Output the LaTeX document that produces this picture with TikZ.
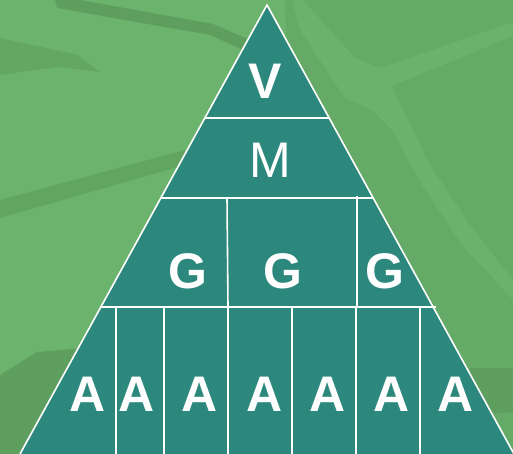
\documentclass[tikz,border=0pt]{standalone}
\usepackage{fontspec}
\setsansfont{Liberation Sans}
\definecolor{leafgreen}{RGB}{108,180,109}
\definecolor{leafmid}{RGB}{101,170,102}
\definecolor{leafdark}{RGB}{94,158,95}
\definecolor{pyrteal}{RGB}{44,136,124}
\tikzset{every picture/.style={/utils/exec={\sffamily}}}
\usetikzlibrary{calc}

\begin{document}
\begin{tikzpicture}[x=1pt,y=-1pt]
  % background with leaf streaks
  \useasboundingbox (0,0) rectangle (513,454);
  \clip (0,0) rectangle (513,454);

	 \tikzstyle{divider}=[draw=white,line width=1.6pt]
	 \tikzstyle{letter}=[text=white,inner sep=0pt,font=\fontsize{50}{50}\selectfont\bfseries]
	 \tikzstyle{plainletter}=[letter,font=\fontsize{50}{50}\selectfont]
	 \fill[leafgreen] (0,0) rectangle (513,454);
	 \fill[leafmid] (285,0) -- (513,0) -- (513,454) -- (300,454) -- cycle;
	 \fill[leafgreen!80!leafmid] (292,0) -- (303,0) -- (355,58) -- (380,68) -- (513,22) -- (513,36)
	   -- (392,86) -- (402,108) -- (430,165) -- (470,225) -- (513,280) -- (513,300)
	   -- (462,245) -- (422,185) -- (392,130) -- (372,110) -- (345,98) -- (300,30) -- cycle;
	 \fill[leafdark] (55,0) -- (80,0) -- (213,24) -- (250,40) -- (248,52) -- (210,35) -- (57,8) -- cycle;
	 \fill[leafdark!60!leafgreen] (0,38) -- (78,55) -- (100,72) -- (57,67) -- (0,75) -- cycle;
	 \fill[leafdark!70!leafgreen] (0,200) -- (185,150) -- (185,165) -- (0,218) -- cycle;
	 \fill[leafdark] (0,375) -- (37,352) -- (85,348) -- (85,454) -- (0,454) -- cycle;
	 \fill[leafdark] (470,368) -- (513,368) -- (513,412) -- (470,415) -- cycle;

	 % pyramid
	 \coordinate (apex) at (267,5);
	 \coordinate (bl) at (20,454);
	 \coordinate (br) at (514,454);
	 \fill[pyrteal] (apex) -- (bl) -- (br) -- cycle;
	 \draw[divider] (bl) -- (apex) -- (br);
	 \draw[divider] ($(apex)!0.2517!(bl)$) -- ($(apex)!0.2517!(br)$);
	 \draw[divider] ($(apex)!0.4298!(bl)$) -- ($(apex)!0.4298!(br)$);
	 \draw[divider] ($(apex)!0.6726!(bl)+(-1,0)$) -- ($(apex)!0.6726!(br)+(3,0)$);
	 \draw[divider] (227,198) -- (228,307);
	 \draw[divider] (357,196) -- (357,307);
	 \foreach \x in {116,164,228,292,356,420}
	   \draw[divider] (\x,307) -- (\x,454);

	 \node[letter] (v) at (265,81) {V};
	 \node[plainletter] (m) at (270,160) {M};
	 \node[letter] (g1) at (188,271) {G};
	 \node[letter] (g2) at (283,271) {G};
	 \node[letter] (g3) at (385,271) {G};
	 \node[letter] (a1) at (88,394) {A};
	 \node[letter] (a2) at (137,394) {A};
	 \node[letter] (a3) at (200,394) {A};
	 \node[letter] (a4) at (265,394) {A};
	 \node[letter] (a5) at (328,394) {A};
	 \node[letter] (a6) at (392,394) {A};
	 \node[letter] (a7) at (456,394) {A};
\end{tikzpicture}
\end{document}
